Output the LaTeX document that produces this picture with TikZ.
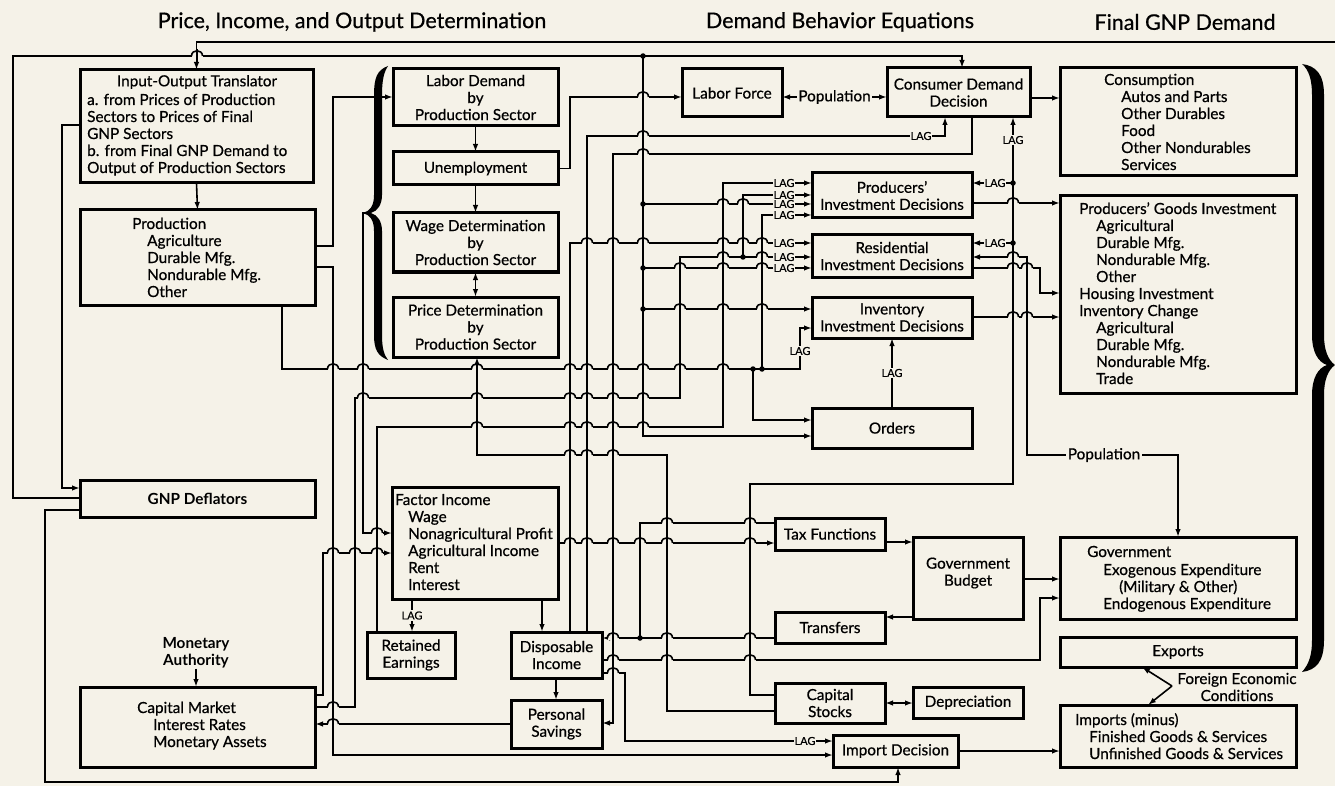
\documentclass[tikz,border=0pt]{standalone}
\usepackage{fontspec}
\setmainfont{Lato}[UprightFeatures={FakeBold=0.6}]
\usetikzlibrary{arrows.meta}
\definecolor{bg}{RGB}{245,242,232}
\newcommand\bodyfont{\fontsize{15.3}{17}\selectfont}
\newcommand\bx[6]{\node[box,minimum width={(#4-#2)*1pt},minimum height={(#5-#3)*1pt}] (#1) at ({(#2+#4)/2},{(#3+#5)/2}) {#6};}
\newcommand\lines[3]{\foreach \tx [count=\i from 0] in {#3} {\node[txt,anchor=base west] at (#1,#2+17*\i) {\tx};}}
\newcommand\hops[2]{\foreach \hx in {#2}{%
 \fill[bg] (\hx-5.5,#1-2) rectangle (\hx+5.5,#1+2);
 \draw[wire] (\hx,#1-7) -- (\hx,#1+7);
 \draw[wire] (\hx-5.5,#1) .. controls (\hx-5.5,#1-7) and (\hx+5.5,#1-7) .. (\hx+5.5,#1);}}
\tikzset{
 wire/.style={line width=1.6pt},
 arr/.style={wire,-{Latex[length=8pt,width=5.5pt]}},
 darr/.style={wire,{Latex[length=8pt,width=5.5pt]}-{Latex[length=8pt,width=5.5pt]}},
 box/.style={draw,line width=3pt,inner sep=0pt,outer sep=0pt,align=center,font=\bodyfont},
 txt/.style={font=\bodyfont,inner sep=0pt},
 lag/.style={font=\fontsize{11}{11}\selectfont,fill=bg,inner sep=1pt},
 jdot/.style={circle,fill,inner sep=0pt,minimum size=5.5pt},
 head/.style={font=\fontsize{21.5}{24}\selectfont}
}
\begin{document}
\begin{tikzpicture}[x=1pt,y=-1pt]
\fill[bg] (0,0) rectangle (1335,786);
\useasboundingbox (0,0) rectangle (1335,786);

% headings
\node[head] (h1) at (352,22) {Price, Income, and Output Determination};
\node[head] (h2) at (840,22) {Demand Behavior Equations};
\node[head] (h3) at (1185,22) {Final GNP Demand};

% boxes
\bx{io}{80}{70}{313}{183}{}
\bx{prod}{80}{210}{315}{305}{}
\bx{gnpd}{80}{480}{315}{517}{\bfseries GNP Deflators}
\bx{cap}{80}{687}{315}{767}{}
\bx{labd}{393}{69}{558}{126}{Labor Demand\\by\\Production Sector}
\bx{unemp}{393}{152}{558}{185}{Unemployment}
\bx{wage}{393}{213}{558}{272}{Wage Determination\\by\\Production Sector}
\bx{price}{393}{297}{558}{357}{Price Determination\\by\\Production Sector}
\bx{lforce}{682}{69}{782}{117}{Labor Force}
\bx{cdd}{887}{68}{1030}{117}{Consumer Demand\\Decision}
\bx{cons}{1060}{68}{1296}{176}{}
\bx{pinv}{812}{173}{972}{218}{Producers'\\Investment Decisions}
\bx{rinv}{812}{235}{972}{277}{Residential\\Investment Decisions}
\bx{iinv}{812}{297}{972}{338}{Inventory\\Investment Decisions}
\bx{orders}{812}{408}{972}{448}{Orders}
\bx{pgi}{1060}{196}{1296}{393}{}
\bx{finc}{392}{487}{558}{599}{}
\bx{ret}{367}{632}{455}{678}{Retained\\Earnings}
\bx{disp}{511}{632}{602}{678}{Disposable\\Income}
\bx{sav}{511}{700}{602}{748}{Personal\\Savings}
\bx{tax}{775}{518}{885}{550}{Tax Functions}
\bx{gbud}{913}{537}{1023}{619}{}
\bx{trans}{775}{612}{885}{643}{Transfers}
\bx{capst}{775}{683}{885}{723}{Capital\\Stocks}
\bx{dep}{913}{687}{1023}{718}{Depreciation}
\bx{imd}{833}{735}{958}{767}{Import Decision}
\bx{gov}{1060}{537}{1296}{619}{}
\bx{exp}{1060}{637}{1296}{667}{Exports}
\bx{imp}{1060}{705}{1296}{767}{}

% box texts
\node[txt] (iot) at (197,82) {Input-Output Translator};
\lines{87}{105}{a. from Prices of Production,Sectors to Prices of Final,GNP Sectors,b. from Final GNP Demand to,Output of Production Sectors}
\node[txt,anchor=base west] (prt) at (132,229) {Production};
\lines{147}{246}{Agriculture,Durable Mfg.,Nondurable Mfg.,Other}
\node[txt,anchor=base west] (cmt) at (137,713) {Capital Market};
\lines{153}{730}{Interest Rates,Monetary Assets}
\node[inner sep=0pt,align=center,font=\bodyfont\bfseries] (ma) at (196,653) {Monetary\\Authority};
\node[txt,anchor=base west] (cst) at (1104,85) {Consumption};
\lines{1121}{102}{Autos and Parts,Other Durables,Food,Other Nondurables,Services}
\node[txt,anchor=base west] (pgt) at (1079,214) {Producers' Goods Investment};
\lines{1096}{231}{Agricultural,Durable Mfg.,Nondurable Mfg.,Other}
\lines{1079}{299}{Housing Investment,Inventory Change}
\lines{1096}{333}{Agricultural,Durable Mfg.,Nondurable Mfg.,Trade}
\node[txt,anchor=base west] (fit) at (395,505) {Factor Income};
\lines{408}{522}{Wage,Nonagricultural Profit,Agricultural Income,Rent,Interest}
\node[txt,align=center] (gbt) at (968,573) {Government\\Budget};
\node[txt,anchor=base west] (gvt) at (1087,557) {Government};
\lines{1103}{575}{Exogenous Expenditure}
\lines{1119}{592}{(Military \& Other)}
\lines{1103}{609}{Endogenous Expenditure}
\node[txt,anchor=base west] (imt) at (1075,725) {Imports (minus)};
\lines{1089}{742}{Finished Goods \& Services,Unfinished Goods \& Services}
\node[txt,align=center] (fec) at (1237,687) {Foreign Economic\\Conditions};
\coordinate (fe) at (1172,686);
\coordinate (lbt) at (365,213);

% ---- wires ----
\draw[arr] (1335,42) -- (io.north |- 0,42) -- (io.north);
\draw[arr] (io.west |- 0,125) -- (62,125) -- (62,488) -- (gnpd.west |- 0,488);
\draw[arr] (gnpd.west |- 0,498) -- (13,498) -- (13,56) -- (962,56) -- (cdd.north -| 962,0);
\draw[arr] (gnpd.west |- 0,510) -- (45,510) -- (45,782) -- (898,782) -- (imd.south -| 898,0);
\draw[arr] (io.south) -- (prod.north);
\draw[arr] (prod.east |- 0,246) -- (333,246) -- (333,97) -- (labd.west |- 0,97);
\draw[arr] (prod.east |- 0,267) -- (333,267) -- (333,755) -- (imd.west |- 0,755);
\draw[arr] (prod.south -| 282,0) -- (282,369) -- (800,369) -- (800,328) -- (iinv.west |- 0,328);
\node[lag] (lg1) at (800,351) {LAG};
\draw[arr] (labd.south) -- (unemp.north);
\draw[arr] (unemp.south) -- (wage.north);
\draw[darr] (wage.south) -- (price.north);
\draw[arr] (unemp.east) -- (570,168.5) -- (570,97) -- (lforce.west |- 0,97);
\draw[darr] (lforce.east |- 0,97) -- node[fill=bg,inner sep=1pt,font=\bodyfont] (pop1) {Population} (cdd.west |- 0,97);
\draw[arr] (lbt) -- (363,213) -- (363,533) -- (finc.west |- 0,533);
\draw[arr] (cap.east |- 0,695) -- (323,695) -- (323,553) -- (finc.west |- 0,553);
\draw[arr] (cap.east |- 0,707) -- (355,707) -- (355,398) -- (680,398) -- (680,257) -- (rinv.west |- 0,257);
\draw[arr] (743,257) -- (743,195) -- (pinv.west |- 0,195);
\draw[arr] (sav.west |- 0,724) -- (cap.east |- 0,724);
\draw[arr] (ma.south) -- (cap.north -| ma.south);
\draw[arr] (ret.north -| 377,0) -- (377,427) -- (723,427) -- (723,183) -- (pinv.west |- 0,183);
\draw[arr] (finc.south -| 412,0) -- node[lag] (lg2) {LAG} (ret.north -| 412,0);
\draw[arr] (finc.south -| 542,0) -- (disp.north -| 542,0);
\draw[arr] (finc.east |- 0,543) -- (tax.west |- 0,543);
\draw[arr] (disp.south -| 556,0) -- (sav.north -| 556,0);
\draw[arr] (disp.north -| 570,0) -- (570,243) -- (rinv.west |- 0,243);
\draw[arr] (disp.north -| 587,0) -- (587,136) -- (945,136) -- (cdd.south -| 945,0);
\node[lag] (lg3) at (921,136) {LAG};
\draw[arr] (cdd.south -| 972,0) -- (972,154) -- (613,154) -- (613,723) -- (sav.east |- 0,723);
\draw[arr] (643,56) -- (643,436) -- (orders.west |- 0,436);
\draw[arr] (643,204) -- (pinv.west |- 0,204);
\draw[arr] (643,268) -- (rinv.west |- 0,268);
\draw[arr] (643,309) -- (iinv.west |- 0,309);
\draw[arr] (753,369) -- (753,420) -- (orders.west |- 0,420);
\draw[arr] (762,369) -- (762,215) -- (pinv.west |- 0,215);
\draw[arr] (orders.north -| 892,0) -- node[lag] (lg4) {LAG} (iinv.south -| 892,0);
\draw[arr] (capst.west |- 0,711) -- (667,711) -- (667,455) -- (477,455) -- (price.south -| 477,0);
\draw[arr] (capst.west |- 0,695) -- (750,695) -- (750,484) -- (1013,484) -- (cdd.south -| 1013,0);
\node[lag] (lg5) at (1013,140) {LAG};
\draw[arr] (1013,183) -- (pinv.east |- 0,183);
\draw[arr] (1013,243) -- (rinv.east |- 0,243);
\node[lag] (lg6) at (995,183) {LAG};
\node[lag] (lg7) at (995,243) {LAG};
\draw[darr] (rinv.east |- 0,257) -- (1027,257) -- (1027,455) -- (1178,455) -- (gov.north -| 1178,0);
\node[fill=bg,inner sep=2pt,font=\bodyfont] (pop2) at (1104,455) {Population};
\draw[arr] (pinv.east |- 0,203) -- (pgi.west |- 0,203);
\draw[arr] (rinv.east |- 0,268) -- (1040,268) -- (1040,293) -- (pgi.west |- 0,293);
\draw[arr] (iinv.east |- 0,317) -- (pgi.west |- 0,317);
\draw[arr] (cdd.east |- 0,98) -- (cons.west |- 0,98);
\draw[wire] (tax.west |- 0,523) -- (640,523) -- (640,638);
\draw[arr] (trans.west |- 0,638) -- (disp.east |- 0,638);
\draw[arr] (tax.east |- 0,542) -- (gbud.west |- 0,542);
\draw[arr] (gbud.west |- 0,617) -- (trans.east |- 0,617);
\draw[arr] (gbud.east |- 0,579) -- (gov.west |- 0,579);
\draw[arr] (disp.east |- 0,660) -- (1040,660) -- (1040,598) -- (gov.west |- 0,598);
\draw[arr] (disp.east |- 0,673) -- (625,673) -- (625,741) -- (imd.west |- 0,741);
\draw[darr] (capst.east |- 0,703) -- (dep.west |- 0,703);
\draw[arr] (imd.east |- 0,751) -- (imp.west |- 0,751);
\draw[arr] (fe) -- (exp.south -| 1142,0);
\draw[arr] (fe) -- (imp.north -| 1148,0);

% hops
\hops{56}{197}
\hops{97}{643}
\hops{136}{643}
\hops{154}{643}
\hops{204}{723,743}
\hops{243}{587,613,643,723,743,762}
\hops{257}{723,762,1013}
\hops{268}{680,723,762,1013,1027}
\hops{309}{680,723,762}
\hops{317}{1013,1027}
\hops{203}{1013}
\hops{369}{333,363,477,570,587,613,643,680,723}
\hops{398}{363,477,570,587,613,643}
\hops{427}{477,570,587,613,643}
\hops{455}{570,587,613}
\hops{523}{667,750}
\hops{533}{377}
\hops{543}{570,587,613,640,667,750}
\hops{553}{333,355,377}
\hops{638}{613,667,750}
\hops{660}{613,667,750}
\hops{673}{613}
\hops{724}{333}
\hops{707}{333}

% lag labels on horizontal lines into boxes
\foreach \ly in {183,195,204,215,243,257,268} {\node[lag] at (784,\ly) {LAG};}
\node[lag] (lg8) at (805,741) {LAG};

% junction dots
\foreach \p in {(643,56),(643,204),(643,268),(643,309),(753,369),(762,369),(743,257),(640,638),(1013,183),(1013,243)} {\node[jdot] at \p {};}

% braces (filled, drawn over wires)
\fill (388,66) .. controls (377,70) and (374,78) .. (374,95) -- (374,195) .. controls (374,206) and (370,211) .. (363,213) .. controls (370,215) and (374,220) .. (374,231) -- (374,335) .. controls (374,350) and (378,356) .. (388,360) .. controls (384,355) and (382,348) .. (382,335) -- (382,231) .. controls (382,222) and (378,215) .. (371,213) .. controls (378,211) and (382,204) .. (382,195) -- (382,95) .. controls (382,80) and (384,72) .. (388,66) -- cycle;
\fill (1302,64) .. controls (1316,66) and (1324,74) .. (1324,95) -- (1324,335) .. controls (1324,350) and (1328,360) .. (1335,365) .. controls (1328,370) and (1324,380) .. (1324,395) -- (1324,640) .. controls (1324,662) and (1316,670) .. (1302,672) .. controls (1309,664) and (1312,655) .. (1312,640) -- (1312,395) .. controls (1312,378) and (1318,368) .. (1327,365) .. controls (1318,362) and (1312,352) .. (1312,335) -- (1312,95) .. controls (1312,80) and (1309,70) .. (1302,64) -- cycle;
\end{tikzpicture}
\end{document}
